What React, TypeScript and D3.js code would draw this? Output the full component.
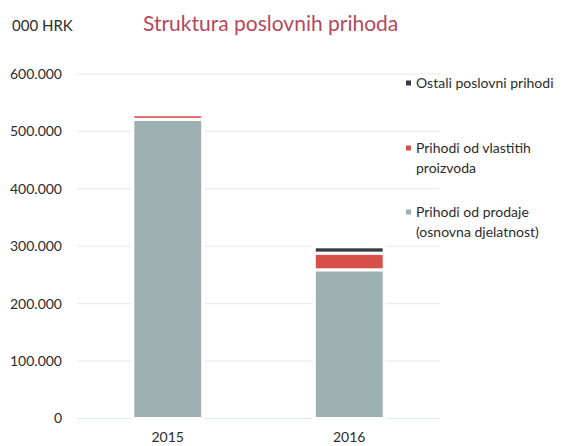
import React, { useRef, useEffect } from "react";
import * as d3 from "d3";

const width = 562;
const height = 446;
const margin = { left: 77, right: 122, top: 74, bottom: 27 };

const years = ["2015", "2016"];
const prodaja = [521000, 259000]; // Prihodi od prodaje (osnovna djelatnost)
const vlastiti = [8000, 29000]; // Prihodi od vlastitih proizvoda
const ostali = [0, 11000]; // Ostali poslovni prihodi
const yTicks = [0, 100000, 200000, 300000, 400000, 500000, 600000];

const seriesKeys = ["prodaja", "vlastiti", "ostali"];
const colors = { prodaja: "#9cb0b2", vlastiti: "#d64f49", ostali: "#353b41" };
const legendItems = [
  { key: "ostali", lines: ["Ostali poslovni prihodi"], y: 83 },
  { key: "vlastiti", lines: ["Prihodi od vlastitih", "proizvoda"], y: 148 },
  { key: "prodaja", lines: ["Prihodi od prodaje", "(osnovna djelatnost)"], y: 212 },
];

const font = "Lato, 'Open Sans', sans-serif";
const fmt = (v: number) => (v === 0 ? "0" : d3.format(",")(v).replace(/,/g, "."));

const App = () => {
  const ref = useRef<SVGSVGElement>(null);

  useEffect(() => {
    if (!ref.current) return;
    const svg = d3.select(ref.current);
    svg.selectAll("*").remove();

    const rows = years.map((y, i) => ({
      year: y,
      prodaja: prodaja[i],
      vlastiti: vlastiti[i],
      ostali: ostali[i],
    }));
    const stacked = d3.stack<any>().keys(seriesKeys)(rows);

    const x = d3
      .scaleBand()
      .domain(years)
      .range([margin.left, width - margin.right])
      .paddingInner(0.615)
      .paddingOuter(0.3075);
    const y = d3
      .scaleLinear()
      .domain([0, 600000])
      .range([height - margin.bottom - 0.5, margin.top]);

    // grid
    svg
      .append("g")
      .selectAll("line")
      .data(yTicks)
      .enter()
      .append("line")
      .attr("x1", margin.left)
      .attr("x2", width - margin.right)
      .attr("y1", (d) => y(d))
      .attr("y2", (d) => y(d))
      .attr("stroke", "#e1e8ef")
      .attr("stroke-width", 1);

    // y tick labels
    svg
      .append("g")
      .selectAll("text")
      .data(yTicks)
      .enter()
      .append("text")
      .attr("x", 62)
      .attr("y", (d) => y(d))
      .attr("dy", "0.35em")
      .attr("text-anchor", "end")
      .attr("font-family", font)
      .attr("font-size", 14)
      .attr("fill", "#2b2b2b")
      .text((d) => fmt(d));

    // bars
    svg
      .append("g")
      .selectAll("g")
      .data(stacked)
      .enter()
      .append("g")
      .attr("fill", (s) => (colors as any)[s.key])
      .selectAll("rect")
      .data((s) => s.filter((d) => d[1] - d[0] > 0))
      .enter()
      .append("rect")
      .attr("x", (d) => x(d.data.year)!)
      .attr("width", x.bandwidth())
      .attr("y", (d) => y(d[1]))
      .attr("height", (d) => y(d[0]) - y(d[1]))
      .attr("stroke", "#fff")
      .attr("stroke-width", 3);

    // x labels
    svg
      .append("g")
      .selectAll("text")
      .data(years)
      .enter()
      .append("text")
      .attr("x", (d) => x(d)! + x.bandwidth() / 2)
      .attr("y", 442)
      .attr("text-anchor", "middle")
      .attr("font-family", font)
      .attr("font-size", 14)
      .attr("fill", "#2b2b2b")
      .text((d) => d);

    // legend
    const lg = svg.append("g");
    legendItems.forEach((item) => {
      lg.append("rect")
        .attr("x", 406)
        .attr("y", item.y - 2.5)
        .attr("width", 5)
        .attr("height", 5)
        .attr("fill", (colors as any)[item.key]);
      item.lines.forEach((line, i) => {
        lg.append("text")
          .attr("x", 416)
          .attr("y", item.y + i * 20)
          .attr("dy", "0.35em")
          .attr("font-family", font)
          .attr("font-size", 14)
          .attr("fill", "#2b2b2b")
          .text(line);
      });
    });

    // titles
    svg
      .append("text")
      .attr("x", 12)
      .attr("y", 31)
      .attr("font-family", font)
      .attr("font-size", 15)
      .attr("fill", "#2b2b2b")
      .text("000 HRK");
    svg
      .append("text")
      .attr("x", 143)
      .attr("y", 31)
      .attr("font-family", font)
      .attr("font-size", 21)
      .attr("fill", "#b4485c")
      .text("Struktura poslovnih prihoda");
  }, []);

  return (
    <svg
      ref={ref}
      width={width}
      height={height}
      style={{ position: "absolute", left: 0, top: 0, background: "#fff" }}
    />
  );
};

export default App;
